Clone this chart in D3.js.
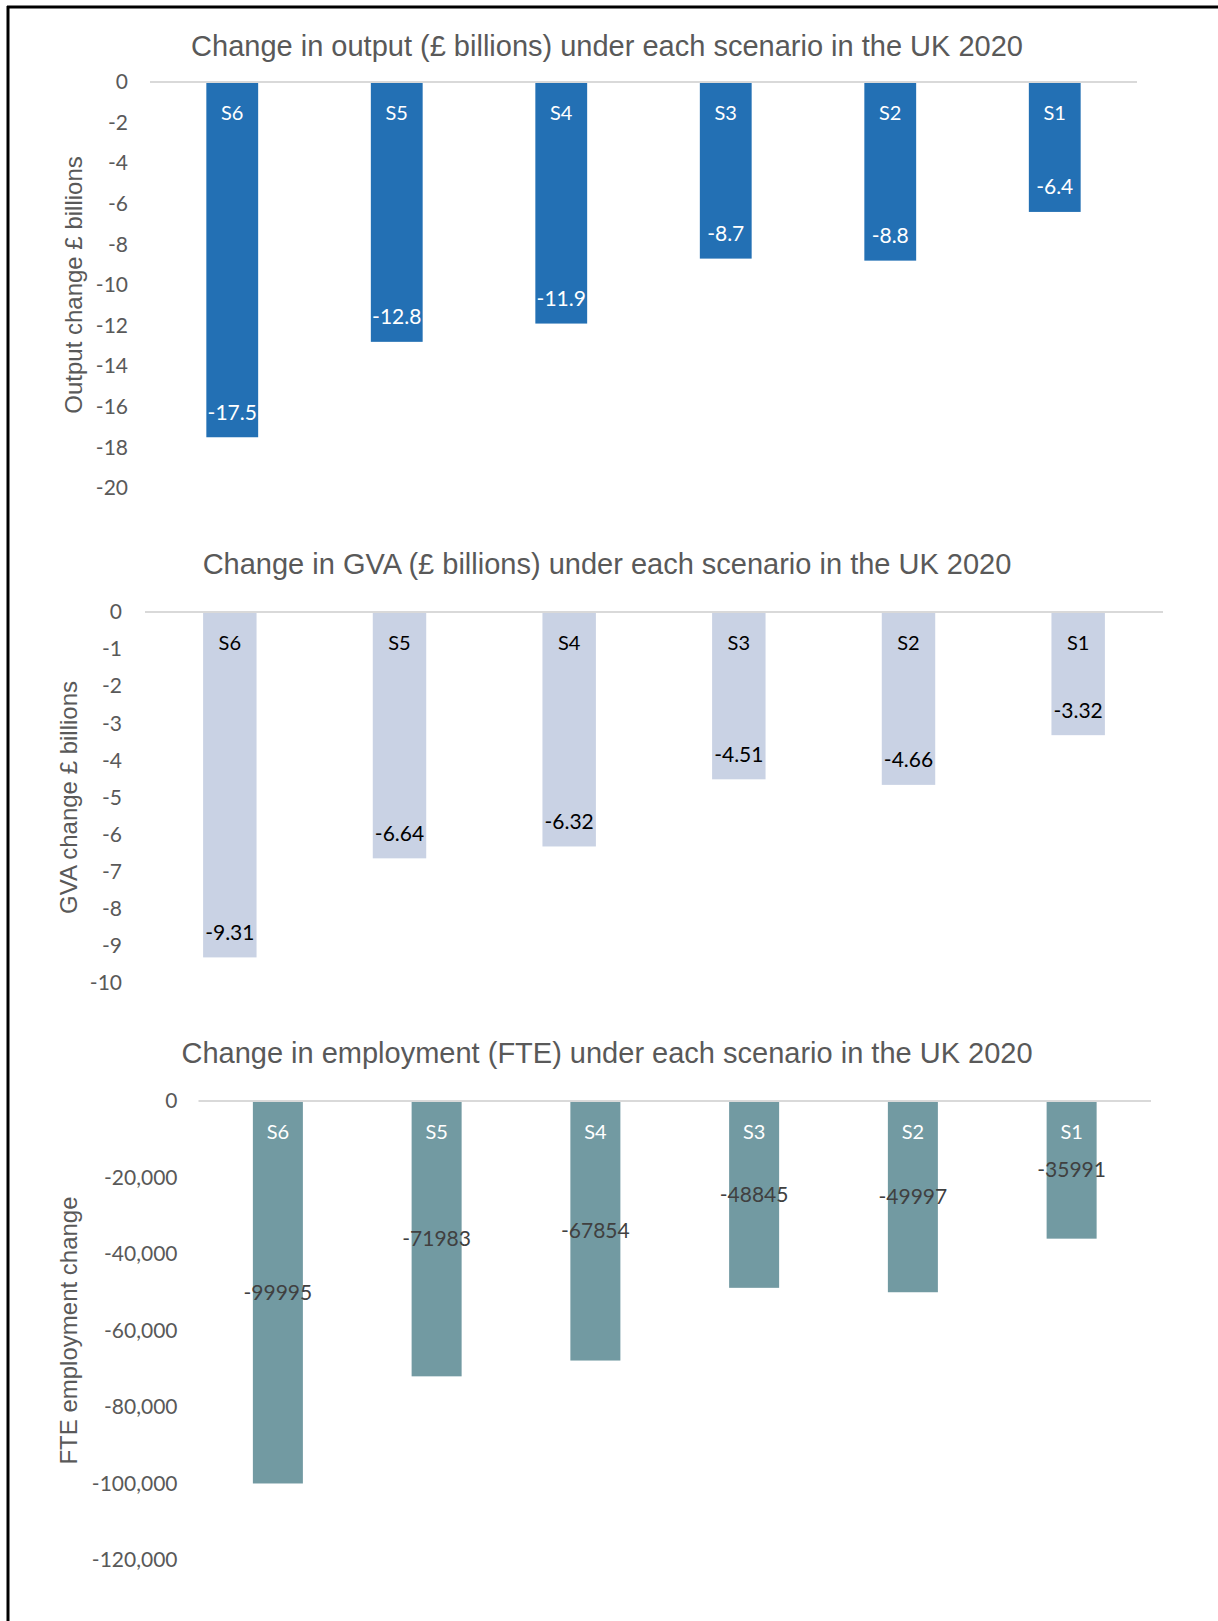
<!DOCTYPE html>
<html>
<head>
<meta charset="utf-8">
<script src="https://cdn.jsdelivr.net/npm/d3@7"></script>
<style>
  body { margin: 0; background: #fff; }
  svg { display: block; }
</style>
</head>
<body>
<svg id="chart" width="1218" height="1621"></svg>
<script>
// scenarios, left to right as plotted
var categories = ['S6', 'S5', 'S4', 'S3', 'S2', 'S1'];

var outputValues = [-17.5, -12.8, -11.9, -8.7, -8.8, -6.4];
var gvaValues = [-9.31, -6.64, -6.32, -4.51, -4.66, -3.32];
var fteValues = [-99995, -71983, -67854, -48845, -49997, -35991];

var outputTicks = [0, -2, -4, -6, -8, -10, -12, -14, -16, -18, -20];
var gvaTicks = [0, -1, -2, -3, -4, -5, -6, -7, -8, -9, -10];
var fteTicks = [0, -20000, -40000, -60000, -80000, -100000, -120000];

var svg = d3.select('#chart');

// page frame
svg.append('line').attr('x1', 8).attr('x2', 8).attr('y1', 6).attr('y2', 1621)
  .attr('stroke', '#000').attr('stroke-width', 3);
svg.append('line').attr('x1', 7).attr('x2', 1218).attr('y1', 7).attr('y2', 7)
  .attr('stroke', '#000').attr('stroke-width', 3);

var titleFont = '"Liberation Sans", Arial, sans-serif';
var labelFont = 'Lato, "Open Sans", sans-serif';

// plain hyphen instead of the unicode minus d3 uses
function hyphen(f) {
  return function(d) { return f(d).replace('\u2212', '-'); };
}

function drawChart(c) {
  var x = d3.scaleBand()
    .domain(categories)
    .range([c.left, c.right])
    .paddingInner(0.685)
    .paddingOuter(0.3425);

  var y = d3.scaleLinear()
    .domain([0, c.ticks[c.ticks.length - 1]])
    .range([c.top, c.bottom]);

  var g = svg.append('g');

  g.append('text')
    .attr('x', 607)
    .attr('y', c.titleY)
    .attr('text-anchor', 'middle')
    .attr('font-family', titleFont)
    .attr('font-size', 29)
    .attr('fill', '#595959')
    .text(c.title);

  // y axis: labels only
  var axis = d3.axisLeft(y)
    .tickValues(c.ticks)
    .tickSize(0)
    .tickPadding(c.tickPad)
    .tickFormat(hyphen(c.format));
  var ax = g.append('g')
    .attr('transform', 'translate(' + c.left + ',0)')
    .call(axis);
  ax.select('.domain').remove();
  ax.selectAll('text')
    .attr('font-family', labelFont)
    .attr('font-size', 21)
    .attr('fill', '#595959');

  g.append('text')
    .attr('transform', 'translate(' + c.axisTitleX + ',' + ((c.top + c.bottom) / 2) + ') rotate(-90)')
    .attr('text-anchor', 'middle')
    .attr('dy', '0.35em')
    .attr('font-family', titleFont)
    .attr('font-size', 24)
    .attr('fill', '#595959')
    .text(c.axisTitle);

  g.selectAll('rect.bar')
    .data(c.values)
    .enter().append('rect')
    .attr('class', 'bar')
    .attr('x', function(d, i) { return x(categories[i]); })
    .attr('y', y(0))
    .attr('width', x.bandwidth())
    .attr('height', function(d) { return y(d) - y(0); })
    .attr('fill', c.color);

  // zero line
  g.append('line')
    .attr('x1', c.left).attr('x2', c.right)
    .attr('y1', y(0)).attr('y2', y(0))
    .attr('stroke', '#D9D9D9').attr('stroke-width', 2);

  // category names at the top of each bar
  g.selectAll('text.cat')
    .data(categories)
    .enter().append('text')
    .attr('class', 'cat')
    .attr('x', function(d) { return x(d) + x.bandwidth() / 2; })
    .attr('y', y(0) + 31)
    .attr('dy', '0.35em')
    .attr('text-anchor', 'middle')
    .attr('font-family', labelFont)
    .attr('font-size', 20)
    .attr('fill', c.catColor)
    .text(function(d) { return d; });

  // value labels
  g.selectAll('text.val')
    .data(c.values)
    .enter().append('text')
    .attr('class', 'val')
    .attr('x', function(d, i) { return x(categories[i]) + x.bandwidth() / 2; })
    .attr('y', function(d) { return c.midLabel ? (y(0) + y(d)) / 2 : y(d) - 25; })
    .attr('dy', '0.35em')
    .attr('text-anchor', 'middle')
    .attr('font-family', labelFont)
    .attr('font-size', 21)
    .attr('fill', c.valColor)
    .text(function(d) { return d; });
}

drawChart({
  title: 'Change in output (£ billions) under each scenario in the UK 2020',
  titleY: 56,
  values: outputValues,
  ticks: outputTicks,
  format: d3.format('d'),
  left: 150, right: 1137, top: 82, bottom: 488,
  tickPad: 22,
  axisTitle: 'Output change £ billions',
  axisTitleX: 74,
  color: '#2370B4',
  catColor: '#ffffff',
  valColor: '#ffffff',
  midLabel: false
});

drawChart({
  title: 'Change in GVA (£ billions) under each scenario in the UK 2020',
  titleY: 574,
  values: gvaValues,
  ticks: gvaTicks,
  format: d3.format('d'),
  left: 145, right: 1163, top: 612, bottom: 983,
  tickPad: 23,
  axisTitle: 'GVA change £ billions',
  axisTitleX: 69,
  color: '#C9D2E4',
  catColor: '#000000',
  valColor: '#000000',
  midLabel: false
});

drawChart({
  title: 'Change in employment (FTE) under each scenario in the UK 2020',
  titleY: 1063,
  values: fteValues,
  ticks: fteTicks,
  format: d3.format(','),
  left: 198.5, right: 1151, top: 1101, bottom: 1560,
  tickPad: 21,
  axisTitle: 'FTE employment change',
  axisTitleX: 69,
  color: '#729AA2',
  catColor: '#ffffff',
  valColor: '#404040',
  midLabel: true
});
</script>
</body>
</html>
